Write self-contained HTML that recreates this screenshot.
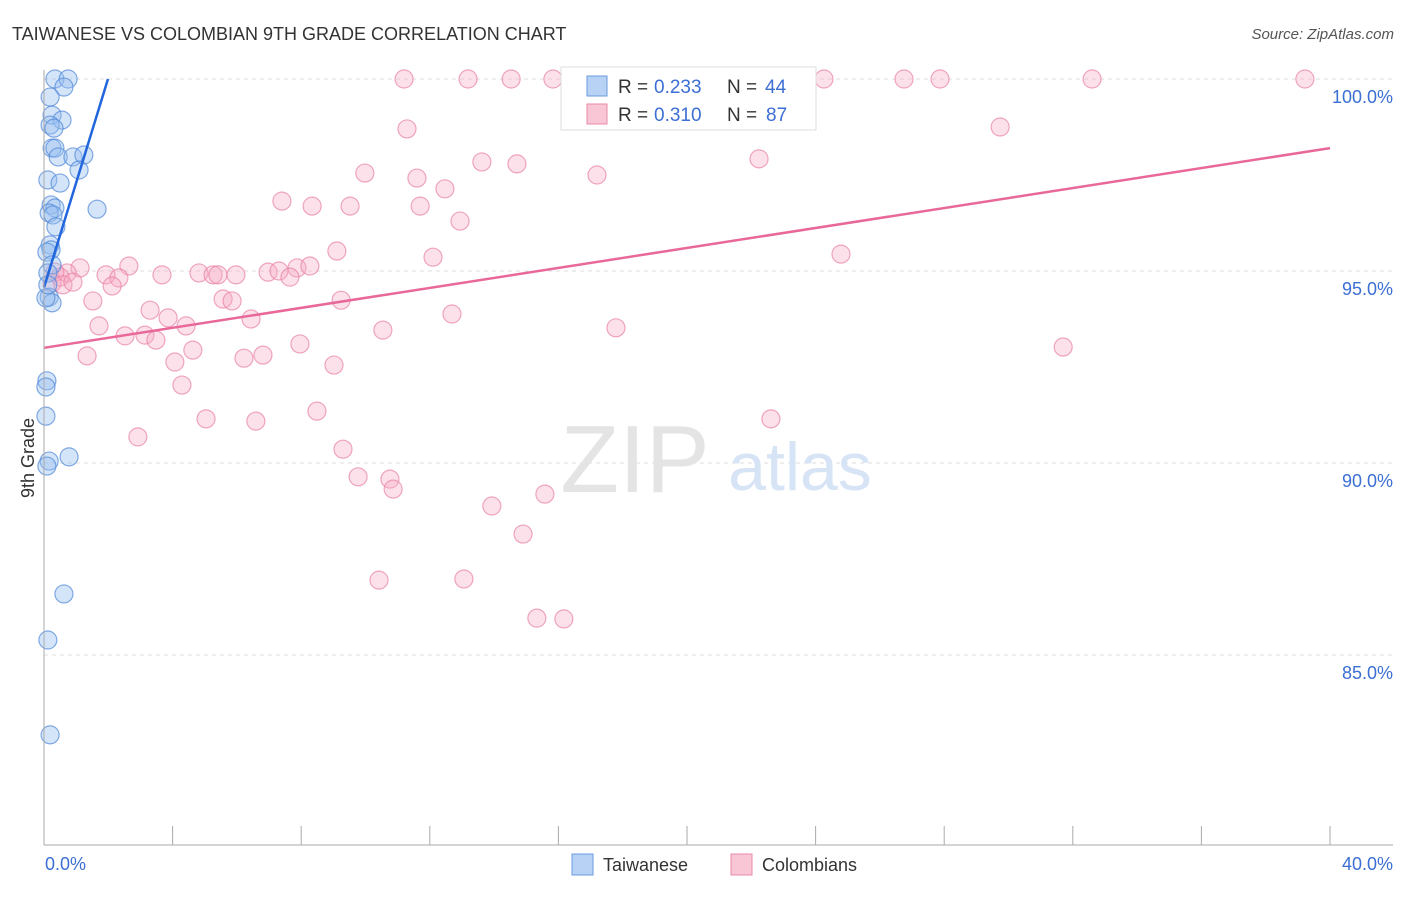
<!DOCTYPE html>
<html><head><meta charset="utf-8"><style>
body{margin:0;background:#fff;font-family:"Liberation Sans",sans-serif;}
svg text{font-family:"Liberation Sans",sans-serif;}
</style></head><body>
<svg id="chart" width="1406" height="892" xmlns="http://www.w3.org/2000/svg">
<text x="12" y="40" font-size="18" fill="#333">TAIWANESE VS COLOMBIAN 9TH GRADE CORRELATION CHART</text>
<text x="1394" y="39" font-size="15" fill="#555" font-style="italic" text-anchor="end">Source: ZipAtlas.com</text>
<g id="grid"></g>
<text x="635" y="492" font-size="96" fill="#e4e4e4" font-family="Liberation Serif" text-anchor="middle">ZIP</text>
<text x="800" y="490" font-size="68" fill="#d6e4f5" text-anchor="middle">atlas</text>
<g id="pts"></g>
<g id="lines"></g>
<line x1="44" y1="70" x2="44" y2="845" stroke="#aaa"/>
<line x1="44" y1="845" x2="1393" y2="845" stroke="#aaa"/>
<g id="ticks"></g>
<text x="45" y="870" font-size="18" fill="#3b6fd4">0.0%</text>
<text x="1393" y="870" font-size="18" fill="#3b6fd4" text-anchor="end">40.0%</text>
<text x="34" y="458" font-size="18" fill="#333" text-anchor="middle" transform="rotate(-90 34 458)">9th Grade</text>
<g>
<rect x="561" y="67" width="255" height="63" fill="#fff" stroke="#ddd"/>
<rect x="587" y="76" width="20" height="20" fill="#b8d2f5" stroke="#6a9be0"/>
<rect x="587" y="104" width="20" height="20" fill="#f9c6d5" stroke="#e88aa8"/>
<text x="618" y="93" font-size="19" fill="#333">R = </text>
<text x="654" y="93" font-size="19" fill="#3b6fd4">0.233</text>
<text x="727" y="93" font-size="19" fill="#333">N = </text>
<text x="765" y="93" font-size="19" fill="#3b6fd4">44</text>
<text x="618" y="121" font-size="19" fill="#333">R = </text>
<text x="654" y="121" font-size="19" fill="#3b6fd4">0.310</text>
<text x="727" y="121" font-size="19" fill="#333">N = </text>
<text x="766" y="121" font-size="19" fill="#3b6fd4">87</text>
</g>
<g><rect x="572" y="854" width="21" height="21" fill="#b8d2f5" stroke="#6a9be0"/><text x="603" y="871" font-size="18" fill="#333">Taiwanese</text></g>
<g><rect x="731" y="854" width="21" height="21" fill="#f9c6d5" stroke="#e88aa8"/><text x="762" y="871" font-size="18" fill="#333">Colombians</text></g>
</svg>
<script>
const blueX=[0.34,0.75,0.62,0.19,0.25,0.56,0.19,0.31,0.25,0.34,0.44,0.90,1.24,1.09,0.12,0.50,0.22,0.34,0.16,0.28,1.65,0.37,0.19,0.22,0.09,0.25,0.12,0.16,0.25,0.06,0.09,0.06,0.06,0.78,0.16,0.09,0.62,0.12,0.19,0.12];
const blueY=[100,100,99.79,99.53,99.06,98.93,98.80,98.72,98.20,98.20,97.97,97.97,98.02,97.63,97.37,97.29,96.72,96.64,96.51,96.46,96.61,96.15,95.68,95.55,95.49,95.16,94.95,94.32,94.17,94.30,92.14,91.98,91.22,90.16,90.05,89.92,86.59,85.39,82.92,94.64];
const pinkX=[11.20,13.19,14.53,15.83,24.26,26.75,27.87,32.60,39.22,11.29,29.74,13.62,14.71,22.24,9.98,11.60,17.20,12.47,7.40,8.34,9.52,11.70,12.94,9.11,12.10,24.79,7.87,8.27,2.64,1.12,1.93,2.33,3.67,4.82,5.26,5.41,5.97,6.97,7.31,7.65,0.72,0.50,0.34,0.25,0.59,0.90,2.12,1.52,5.57,5.85,9.24,3.30,3.86,4.42,6.44,12.69,1.71,10.54,17.79,2.52,3.14,3.48,7.96,4.63,1.34,4.07,6.22,6.81,9.02,31.70,4.29,8.49,5.04,6.59,22.61,2.92,9.30,9.77,10.76,10.86,15.58,13.93,14.90,10.42,13.06,15.33,16.17];
const pinkY=[100,100,100,100,100,100,100,100,100,98.70,98.75,97.84,97.79,97.92,97.55,97.42,97.50,97.14,96.82,96.69,96.69,96.69,96.30,95.52,95.36,95.44,95.08,95.13,95.13,95.08,94.90,94.82,94.90,94.95,94.90,94.90,94.90,94.97,95.0,94.84,94.95,94.84,94.97,94.69,94.64,94.71,94.61,94.22,94.27,94.22,94.24,93.98,93.78,93.57,93.75,93.88,93.57,93.46,93.52,93.31,93.33,93.20,93.10,92.94,92.79,92.63,92.73,92.81,92.55,93.02,92.03,91.35,91.15,91.09,91.15,90.68,90.36,89.64,89.58,89.32,89.19,88.88,88.15,86.95,86.98,85.96,85.94];
const yTicks=[100,95,90,85];
const blueLine=[[0,94.57],[1.99,100]];
const pinkLine=[[0,93.0],[40,98.2]];
const NS="http://www.w3.org/2000/svg";
const sx=v=>44+v*(1286/40);
const sy=v=>79+(100-v)*38.4;
function mk(t,a,p){const e=document.createElementNS(NS,t);for(const k in a)e.setAttribute(k,a[k]);p.appendChild(e);return e;}
const grid=document.getElementById('grid');
yTicks.forEach(t=>{
 const l=mk('line',{x1:44,x2:1393,y1:sy(t),y2:sy(t),stroke:'#ddd','stroke-dasharray':'4,4'},grid);
 
 
 const tx=mk('text',{x:1393,y:sy(t)+24,'font-size':18,fill:'#3b6fd4','text-anchor':'end'},grid);
 tx.textContent=t.toFixed(1)+'%';
 
 
});
const ticks=document.getElementById('ticks');
for(let i=0;i<=10;i++){
 const l=mk('line',{x1:sx(i*4),x2:sx(i*4),y1:826,y2:845,stroke:'#aaa'},ticks);
 
 
}
const pts=document.getElementById('pts');
pinkX.forEach((x,i)=>{
 const c=mk('circle',{cx:sx(x),cy:sy(pinkY[i]),r:9,fill:'rgba(246,170,195,0.35)',stroke:'rgba(232,130,165,0.7)','stroke-width':1.2},pts);
 
 
});
blueX.forEach((x,i)=>{
 const c=mk('circle',{cx:sx(x),cy:sy(blueY[i]),r:9,fill:'rgba(150,190,240,0.4)',stroke:'rgba(80,135,215,0.7)','stroke-width':1.2},pts);
 
 
});
const lines=document.getElementById('lines');
const bl=mk('line',{x1:sx(blueLine[0][0]),y1:sy(blueLine[0][1]),x2:sx(blueLine[1][0]),y2:sy(blueLine[1][1]),stroke:'#2266dd','stroke-width':2.5},lines);


const pl=mk('line',{x1:sx(pinkLine[0][0]),y1:sy(pinkLine[0][1]),x2:sx(pinkLine[1][0]),y2:sy(pinkLine[1][1]),stroke:'#e8689a','stroke-width':2.5},lines);


</script>
</body></html>
